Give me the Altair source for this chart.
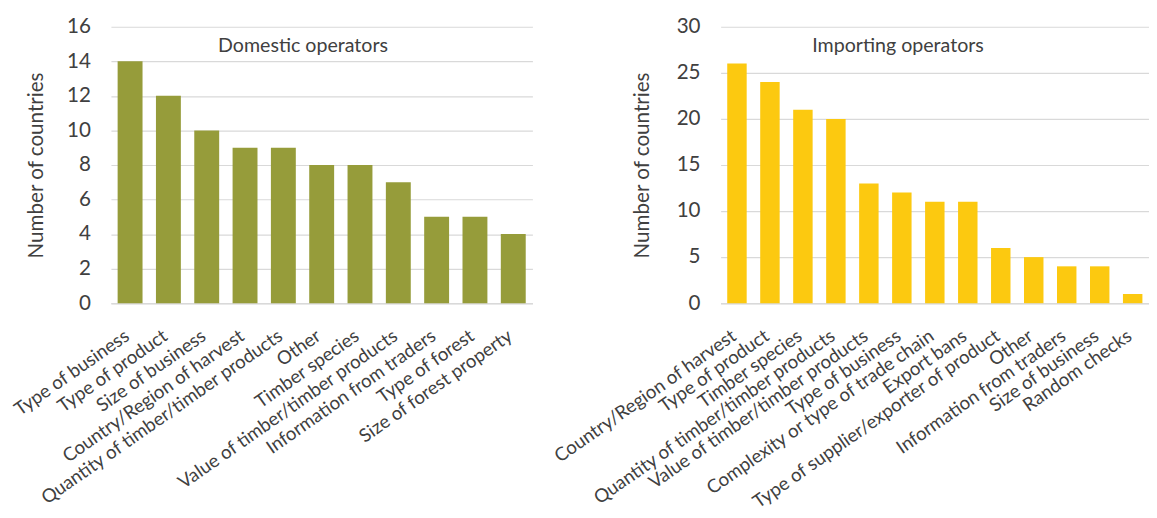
import altair as alt
import pandas as pd

dom_cats = ["Type of business", "Type of product", "Size of business",
            "Country/Region of harvest", "Quantity of timber/timber products",
            "Other", "Timber species", "Value of timber/timber products",
            "Information from traders", "Type of forest", "Size of forest property"]
dom_vals = [14, 12, 10, 9, 9, 8, 8, 7, 5, 5, 4]

imp_cats = ["Country/Region of harvest", "Type of product", "Timber species",
            "Quantity of timber/timber products", "Value of timber/timber products",
            "Type of business", "Complexity or type of trade chain", "Export bans",
            "Type of supplier/exporter of product", "Other", "Information from traders",
            "Size of business", "Random checks"]
imp_vals = [26, 24, 21, 20, 13, 12, 11, 11, 6, 5, 4, 4, 1]

dom_ticks = [0, 2, 4, 6, 8, 10, 12, 14, 16]
imp_ticks = [0, 5, 10, 15, 20, 25, 30]

FONT = "Lato"
TXT = "#404040"
GRID = "#D9D9D9"
H = 282


def panel(cats, vals, color, title, width, pi, po, ticks, tx, ty, ext):
    df = pd.DataFrame({"cat": cats, "val": vals})
    bars = alt.Chart(df).mark_bar(color=color).encode(
        x=alt.X("cat:N", sort=cats, title=None,
                scale=alt.Scale(paddingInner=pi, paddingOuter=po),
                axis=alt.Axis(labelAngle=-35, labelAlign="right", labelBaseline="middle",
                              labelFontSize=19, labelFont=FONT, labelOffset=-3,
                              labelColor=TXT, ticks=False, domainColor=GRID,
                              domainWidth=1.5, labelPadding=31, labelLimit=500)),
        y=alt.Y("val:Q", scale=alt.Scale(domain=[ticks[0], ticks[-1]], nice=False),
                axis=alt.Axis(values=ticks, title="Number of countries", grid=True,
                              gridColor=GRID, gridWidth=1.2, domain=False, ticks=False,
                              labelPadding=21, labelFontSize=21, labelFont=FONT,
                              labelColor=TXT, titleFont=FONT, titleFontSize=21,
                              titleFontWeight="normal", titleColor=TXT,
                              titlePadding=24, minExtent=ext, maxExtent=ext)),
    )
    txt = alt.Chart(pd.DataFrame({"t": [title]})).mark_text(
        font=FONT, fontSize=20, color=TXT).encode(
        text="t:N", x=alt.value(tx), y=alt.value(ty))
    return alt.layer(bars, txt).properties(width=width, height=H)


left = panel(dom_cats, dom_vals, "#969C3A", "Domestic operators", 430,
             0.35, 0.175, dom_ticks, 196, 20, 42)
right = panel(imp_cats, imp_vals, "#FCC910", "Importing operators", 437,
              0.41, 0.2, imp_ticks, 181, 20, 46)

chart = alt.hconcat(left, right, spacing=192, bounds="flush").properties(
    padding={"left": 2, "top": 3, "right": 0, "bottom": 0}
).configure_view(stroke=None)

chart.save("out.html", embed_options={"renderer": "svg", "actions": False})
